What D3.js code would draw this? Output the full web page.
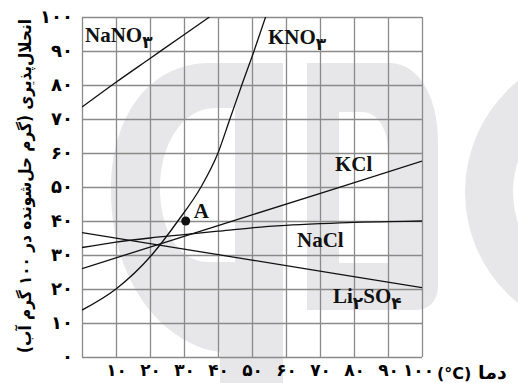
<!DOCTYPE html>
<html>
<head>
<meta charset="utf-8">
<script src="https://cdn.jsdelivr.net/npm/d3@7"></script>
<style>
  body { margin: 0; background: #fff; }
  svg { display: block; }
</style>
</head>
<body>
<div id="chart"></div>
<script>
// temperatures (°C) and solubility (g / 100 g water)
var nano3Temp = [0, 10, 20, 30, 37.5];
var nano3Sol = [73.5, 80.8, 87.8, 94.8, 100];

var kno3Temp = [0, 10, 20.5, 28.2, 35, 40, 43.5, 47, 50.6, 54];
var kno3Sol = [13.8, 20, 30, 40, 50, 60, 70, 80, 90, 100];

var kclTemp = [0, 50, 100];
var kclSol = [26, 41.8, 57.6];

var naclTemp = [0, 10, 20, 30, 40, 50, 60, 70, 80, 90, 100];
var naclSol = [32.2, 33.8, 35, 36, 37, 38, 38.7, 39.2, 39.6, 39.8, 40];

var li2so4Temp = [0, 50, 100];
var li2so4Sol = [36.6, 28.5, 20.4];

var pointA = [30.5, 40];

var xTicks = [10, 20, 30, 40, 50, 60, 70, 80, 90, 100];
var yTicks = [0, 10, 20, 30, 40, 50, 60, 70, 80, 90, 100];

var w = 518;
var h = 383;

var fa = function(n) {
  return String(n).replace(/\d/g, function(d) { return "۰۱۲۳۴۵۶۷۸۹"[d]; });
};

var svg = d3.select("#chart")
            .append("svg")
            .attr("width", w)
            .attr("height", h);

var xScale = d3.scaleLinear().domain([0, 100]).range([82, 422]);
var yScale = d3.scaleLinear().domain([0, 100]).range([357, 17]);

// light grey watermark behind the chart
var wm = svg.append("g").attr("fill", "#e7e7e9");
wm.append("path")
  .attr("fill-rule", "evenodd")
  .attr("d", "M283,63 L210,63 C150,63 111,115 111,190 C111,285 165,345 220,352 L220,383 L283,383 Z " +
             "M235,108 L215,108 C182,108 160,145 160,188 C160,232 180,262 208,262 L235,262 Z");
wm.append("path")
  .attr("fill-rule", "evenodd")
  .attr("d", "M307,63 L390,63 C420,63 438,100 438,140 L438,285 C438,300 430,310 415,310 L307,310 Z " +
             "M339,112 L362,112 C378,112 388,130 388,150 L388,263 L339,263 Z");
wm.append("path")
  .attr("fill-rule", "evenodd")
  .attr("d", d3.arc()({innerRadius: 95, outerRadius: 143, startAngle: 0, endAngle: 2 * Math.PI}))
  .attr("transform", "translate(608,192)");

// grid
svg.append("g")
   .attr("class", "grid-x")
   .attr("transform", "translate(0," + yScale(0) + ")")
   .call(d3.axisBottom(xScale).tickValues([0].concat(xTicks)).tickSize(-(yScale(0) - yScale(100))).tickFormat(""))
   .call(function(g) { g.select(".domain").remove(); });
svg.append("g")
   .attr("class", "grid-y")
   .attr("transform", "translate(" + xScale(0) + ",0)")
   .call(d3.axisLeft(yScale).tickValues(yTicks).tickSize(-(xScale(100) - xScale(0))).tickFormat(""))
   .call(function(g) { g.select(".domain").remove(); });
svg.selectAll(".grid-x line, .grid-y line")
   .attr("stroke", "#8a8a8a")
   .attr("stroke-width", 1.3);

// tick labels
var xAxis = svg.append("g")
   .attr("transform", "translate(0," + yScale(0) + ")")
   .call(d3.axisBottom(xScale).tickValues(xTicks).tickSize(0).tickPadding(7).tickFormat(fa));
xAxis.select(".domain").remove();

var yAxis = svg.append("g")
   .attr("transform", "translate(" + xScale(0) + ",0)")
   .call(d3.axisLeft(yScale).tickValues(yTicks).tickSize(0).tickPadding(9).tickFormat(fa));
yAxis.select(".domain").remove();

svg.selectAll(".tick text")
   .attr("font-family", "DejaVu Sans")
   .attr("font-weight", "bold")
   .attr("font-size", 18)
   .attr("fill", "#000");
xAxis.selectAll(".tick text")
   .attr("font-size", 17)
   .filter(function(d) { return d === 100; })
   .attr("x", -4);

// curves
svg.append("clipPath").attr("id", "plot")
   .append("rect")
   .attr("x", xScale(0)).attr("y", yScale(100))
   .attr("width", xScale(100) - xScale(0)).attr("height", yScale(0) - yScale(100));

var line = d3.line()
   .x(function(d) { return xScale(d[0]); })
   .y(function(d) { return yScale(d[1]); })
   .curve(d3.curveMonotoneX);

var series = [
  [nano3Temp, nano3Sol],
  [kno3Temp, kno3Sol],
  [kclTemp, kclSol],
  [naclTemp, naclSol],
  [li2so4Temp, li2so4Sol]
];

svg.append("g")
   .attr("clip-path", "url(#plot)")
   .selectAll("path")
   .data(series)
   .enter()
   .append("path")
   .attr("d", function(s) { return line(d3.zip(s[0], s[1])); })
   .attr("fill", "none")
   .attr("stroke", "#111")
   .attr("stroke-width", 1.3);

svg.append("circle")
   .attr("cx", xScale(pointA[0]))
   .attr("cy", yScale(pointA[1]))
   .attr("r", 4.5)
   .attr("fill", "#111");

// labels
var label = function(x, y, parts) {
  var t = svg.append("text")
     .attr("x", x).attr("y", y)
     .attr("font-family", "Liberation Serif")
     .attr("font-weight", "bold")
     .attr("font-size", 21)
     .attr("fill", "#111");
  var shift = 0;
  parts.forEach(function(p) {
    var isSub = typeof p === "number";
    var sp = t.append("tspan").text(isSub ? fa(p) : p);
    var want = isSub ? 6 : 0;
    if (want !== shift) sp.attr("dy", want - shift);
    shift = want;
    if (isSub) sp.attr("font-family", "DejaVu Sans").attr("font-size", 17);
  });
};

label(85, 42, ["NaNO", 3]);
label(268, 44, ["KNO", 3]);
label(335, 171, ["KCl"]);
label(297, 247, ["NaCl"]);
label(333, 303, ["Li", 2, "SO", 4]);
label(xScale(pointA[0]) + 8, yScale(pointA[1]) - 3, ["A"]);

// axis titles
svg.append("text")
   .attr("x", 437).attr("y", 379)
   .attr("font-family", "DejaVu Sans")
   .attr("font-weight", "bold")
   .attr("font-size", 16)
   .text("(°C)");
var xTitle = svg.append("text")
   .attr("direction", "rtl")
   .attr("text-anchor", "end")
   .attr("font-family", "DejaVu Sans")
   .attr("font-weight", "bold")
   .attr("font-size", 19)
   .text("دما");
var xw = xTitle.node().getComputedTextLength();
xTitle.attr("transform", "translate(478,379) scale(" + Math.min(1, 38 / xw) + ",1)");

var yTitle = svg.append("text")
   .attr("direction", "rtl")
   .attr("text-anchor", "middle")
   .attr("font-family", "DejaVu Sans")
   .attr("font-weight", "bold")
   .attr("font-size", 17)
   .text("انحلال‌پذیری (گرم حل‌شونده در " + fa(100) + " گرم آب)");
var yw = yTitle.node().getComputedTextLength();
yTitle.attr("transform", "translate(31,186) rotate(-90) scale(" + (334 / yw) + ",1)");
</script>
</body>
</html>
